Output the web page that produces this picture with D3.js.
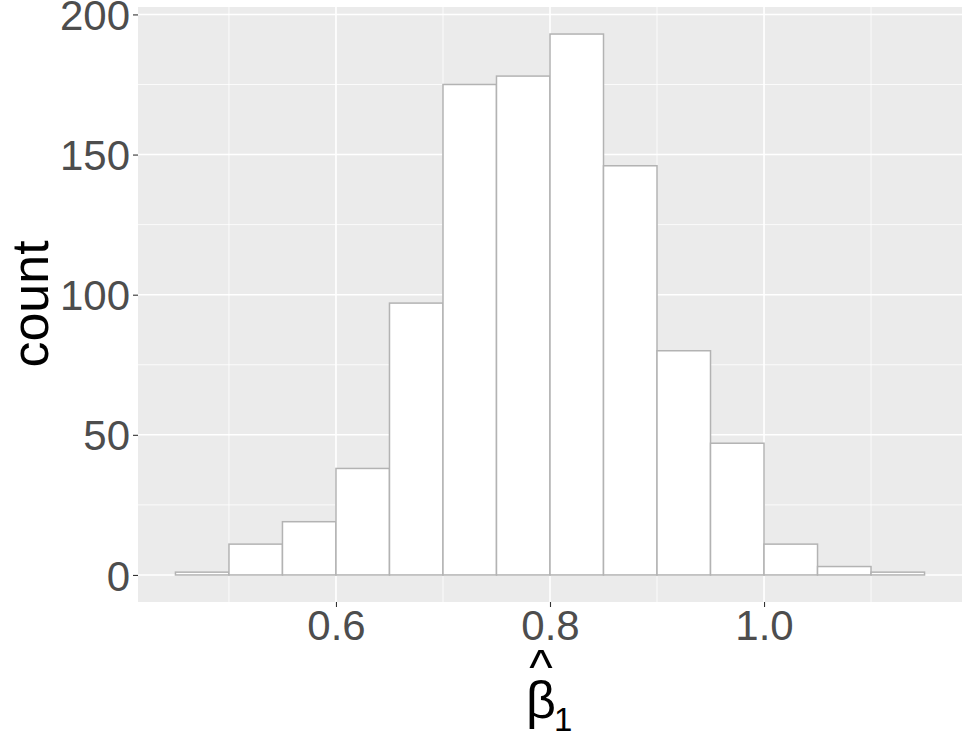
<!DOCTYPE html>
<html>
<head>
<meta charset="utf-8">
<script src="https://cdn.jsdelivr.net/npm/d3@7"></script>
<style>
  html, body { margin: 0; padding: 0; background: #fff; }
  svg { display: block; font-family: "Liberation Sans", Arial, sans-serif; }
</style>
</head>
<body>
<svg id="chart" width="969" height="749"></svg>
<script>
// Bin edges (start of each bin, width 0.05) and counts
const binStarts = [0.45, 0.50, 0.55, 0.60, 0.65, 0.70, 0.75, 0.80, 0.85, 0.90, 0.95, 1.00, 1.05, 1.10];
const binWidth = 0.05;
const counts = [1, 11, 19, 38, 97, 175, 178, 193, 146, 80, 47, 11, 3, 1];
const xTicks = [0.6, 0.8, 1.0];
const xMinor = [0.5, 0.7, 0.9, 1.1];
const yTicks = [0, 50, 100, 150, 200];
const yMinor = [25, 75, 125, 175];

const svg = d3.select("#chart");
const panel = { left: 138, top: 7, right: 962, bottom: 602 };

const xMin = d3.min(binStarts), xMax = d3.max(binStarts) + binWidth;
const xPad = (xMax - xMin) * 0.05;
const yMaxData = d3.max(counts);
const yPad = yMaxData * 0.05;

const x = d3.scaleLinear().domain([xMin - xPad, xMax + xPad]).range([panel.left, panel.right]);
const y = d3.scaleLinear().domain([-yPad, yMaxData + yPad]).range([panel.bottom, panel.top]);

// panel background
svg.append("rect")
  .attr("x", panel.left).attr("y", panel.top)
  .attr("width", panel.right - panel.left).attr("height", panel.bottom - panel.top)
  .attr("fill", "#EBEBEB");

const grid = svg.append("g");
// minor grid
grid.selectAll(".ym").data(yMinor).join("line")
  .attr("x1", panel.left).attr("x2", panel.right)
  .attr("y1", d => y(d)).attr("y2", d => y(d))
  .attr("stroke", "#fff").attr("stroke-width", 0.8);
grid.selectAll(".xm").data(xMinor).join("line")
  .attr("y1", panel.top).attr("y2", panel.bottom)
  .attr("x1", d => x(d)).attr("x2", d => x(d))
  .attr("stroke", "#fff").attr("stroke-width", 0.8);
// major grid
grid.selectAll(".yM").data(yTicks).join("line")
  .attr("x1", panel.left).attr("x2", panel.right)
  .attr("y1", d => y(d)).attr("y2", d => y(d))
  .attr("stroke", "#fff").attr("stroke-width", 1.6);
grid.selectAll(".xM").data(xTicks).join("line")
  .attr("y1", panel.top).attr("y2", panel.bottom)
  .attr("x1", d => x(d)).attr("x2", d => x(d))
  .attr("stroke", "#fff").attr("stroke-width", 1.6);

// bars
svg.append("g").selectAll("rect").data(binStarts).join("rect")
  .attr("x", d => x(d))
  .attr("width", d => x(d + binWidth) - x(d))
  .attr("y", (d, i) => y(counts[i]))
  .attr("height", (d, i) => y(0) - y(counts[i]))
  .attr("fill", "#FFFFFF")
  .attr("stroke", "#B3B3B3")
  .attr("stroke-width", 1.5);

// y axis
const yAxis = d3.axisLeft(y).tickValues(yTicks).tickSize(5).tickPadding(3).tickFormat(d3.format("d"));
const gy = svg.append("g").attr("transform", `translate(${panel.left},0)`).call(yAxis);
gy.select(".domain").remove();
gy.selectAll(".tick line").attr("stroke", "#333333").attr("stroke-width", 1.1);
gy.selectAll(".tick text").attr("fill", "#4D4D4D").attr("font-size", 42)
  .attr("font-family", "Liberation Sans, Arial, sans-serif").attr("dy", "0.36em");

// x axis
const xAxis = d3.axisBottom(x).tickValues(xTicks).tickSize(5).tickPadding(3).tickFormat(d3.format(".1f"));
const gx = svg.append("g").attr("transform", `translate(0,${panel.bottom})`).call(xAxis);
gx.select(".domain").remove();
gx.selectAll(".tick line").attr("stroke", "#333333").attr("stroke-width", 1.1);
gx.selectAll(".tick text").attr("fill", "#4D4D4D").attr("font-size", 42)
  .attr("font-family", "Liberation Sans, Arial, sans-serif").attr("dy", "0.71em");

// y title
svg.append("text")
  .attr("transform", "translate(48,304) rotate(-90)")
  .attr("text-anchor", "middle")
  .attr("font-size", 52)
  .attr("fill", "#000")
  .text("count");

// x title: beta hat with subscript 1
const xt = svg.append("g");
xt.append("text").attr("x", 541).attr("y", 718).attr("text-anchor", "middle")
  .attr("font-size", 52).attr("fill", "#000").text("β");
xt.append("text").attr("x", 541).attr("y", 684).attr("text-anchor", "middle")
  .attr("font-size", 50).attr("fill", "#000").text("^");
xt.append("text").attr("x", 554).attr("y", 731).attr("text-anchor", "start")
  .attr("font-size", 33).attr("fill", "#000").text("1");
</script>
</body>
</html>
